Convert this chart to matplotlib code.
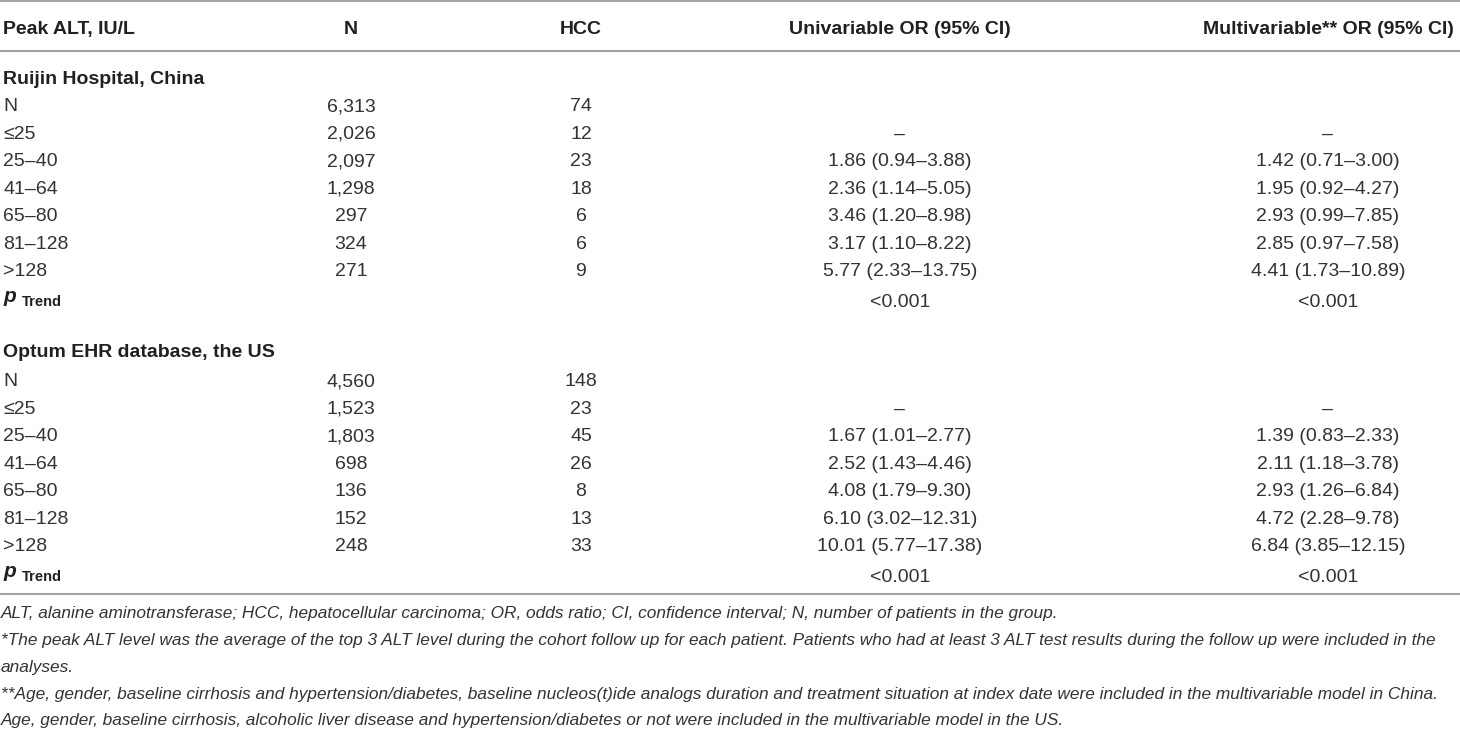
import matplotlib.pyplot as plt

plt.rcParams['font.family'] = ['Liberation Sans', 'DejaVu Sans']

# table content
headers = ["Peak ALT, IU/L", "N", "HCC", "Univariable OR (95% CI)", "Multivariable** OR (95% CI)"]
groups = ["Ruijin Hospital, China", "Optum EHR database, the US"]
alt_levels = ["N", "≤25", "25–40", "41–64", "65–80", "81–128", ">128"]

china_n = [6313, 2026, 2097, 1298, 297, 324, 271]
china_hcc = [74, 12, 23, 18, 6, 6, 9]
china_uni = [None, "ref", (1.86, 0.94, 3.88), (2.36, 1.14, 5.05), (3.46, 1.20, 8.98),
             (3.17, 1.10, 8.22), (5.77, 2.33, 13.75)]
china_multi = [None, "ref", (1.42, 0.71, 3.00), (1.95, 0.92, 4.27), (2.93, 0.99, 7.85),
               (2.85, 0.97, 7.58), (4.41, 1.73, 10.89)]

us_n = [4560, 1523, 1803, 698, 136, 152, 248]
us_hcc = [148, 23, 45, 26, 8, 13, 33]
us_uni = [None, "ref", (1.67, 1.01, 2.77), (2.52, 1.43, 4.46), (4.08, 1.79, 9.30),
          (6.10, 3.02, 12.31), (10.01, 5.77, 17.38)]
us_multi = [None, "ref", (1.39, 0.83, 2.33), (2.11, 1.18, 3.78), (2.93, 1.26, 6.84),
            (4.72, 2.28, 9.78), (6.84, 3.85, 12.15)]

p_trend_uni = ["<0.001", "<0.001"]
p_trend_multi = ["<0.001", "<0.001"]

footnotes = [
    "ALT, alanine aminotransferase; HCC, hepatocellular carcinoma; OR, odds ratio; CI, confidence interval; N, number of patients in the group.",
    "*The peak ALT level was the average of the top 3 ALT level during the cohort follow up for each patient. Patients who had at least 3 ALT test results during the follow up were included in the",
    "analyses.",
    "**Age, gender, baseline cirrhosis and hypertension/diabetes, baseline nucleos(t)ide analogs duration and treatment situation at index date were included in the multivariable model in China.",
    "Age, gender, baseline cirrhosis, alcoholic liver disease and hypertension/diabetes or not were included in the multivariable model in the US.",
]


def fmt_or(v):
    if v is None:
        return ""
    if v == "ref":
        return "–"
    return f"{v[0]:.2f} ({v[1]:.2f}–{v[2]:.2f})"


W, H = 1460, 729
fig = plt.figure(figsize=(W / 100, H / 100), dpi=100)
ax = fig.add_axes([0, 0, 1, 1])
ax.set_xlim(0, W)
ax.set_ylim(H, 0)
ax.axis('off')

TXT = '#231f20'
BODY = '#333333'
LINE = '#a3a3a3'
col_x = [3, 351, 581, 900, 1328]
fs = 14

# rules
for y in [1, 51, 594]:
    ax.plot([0, W], [y, y], color=LINE, lw=1.5, solid_capstyle='butt')

# header
for i, h in enumerate(headers):
    ax.text(col_x[i], 34, h, ha='left' if i == 0 else 'center', va='baseline',
            fontsize=fs, fontweight='bold', color=TXT)

blocks = [
    (china_n, china_hcc, china_uni, china_multi, 77, 104, 300),
    (us_n, us_hcc, us_uni, us_multi, 350, 379, 575),
]
pitch = 27.5
for gi, (ns, hccs, uni, multi, y_title, y0, y_p) in enumerate(blocks):
    ax.text(col_x[0], y_title + 7, groups[gi], ha='left', va='baseline',
            fontsize=fs, fontweight='bold', color=TXT)
    for r, lvl in enumerate(alt_levels):
        yb = y0 + r * pitch + 7
        ax.text(col_x[0], yb, lvl, ha='left', va='baseline', fontsize=fs, color=BODY)
        ax.text(col_x[1], yb, f"{ns[r]:,}", ha='center', va='baseline', fontsize=fs, color=BODY)
        ax.text(col_x[2], yb, str(hccs[r]), ha='center', va='baseline', fontsize=fs, color=BODY)
        ax.text(col_x[3], yb, fmt_or(uni[r]), ha='center', va='baseline', fontsize=fs, color=BODY)
        ax.text(col_x[4], yb, fmt_or(multi[r]), ha='center', va='baseline', fontsize=fs, color=BODY)
    # p trend row
    ax.text(col_x[0], y_p + 2, "p", ha='left', va='baseline', fontsize=15,
            fontweight='bold', fontstyle='italic', color=TXT)
    ax.text(col_x[0] + 19, y_p + 6, "Trend", ha='left', va='baseline', fontsize=10.5,
            fontweight='bold', color=TXT)
    ax.text(col_x[3], y_p + 7, p_trend_uni[gi], ha='center', va='baseline', fontsize=fs, color=BODY)
    ax.text(col_x[4], y_p + 7, p_trend_multi[gi], ha='center', va='baseline', fontsize=fs, color=BODY)

# footnotes
for note, y in zip(footnotes, [612, 639, 666, 693, 719]):
    ax.text(1, y + 6, note, ha='left', va='baseline', fontsize=12.4,
            fontstyle='italic', color=BODY)

fig.savefig('out.png', dpi=100, facecolor='white')
